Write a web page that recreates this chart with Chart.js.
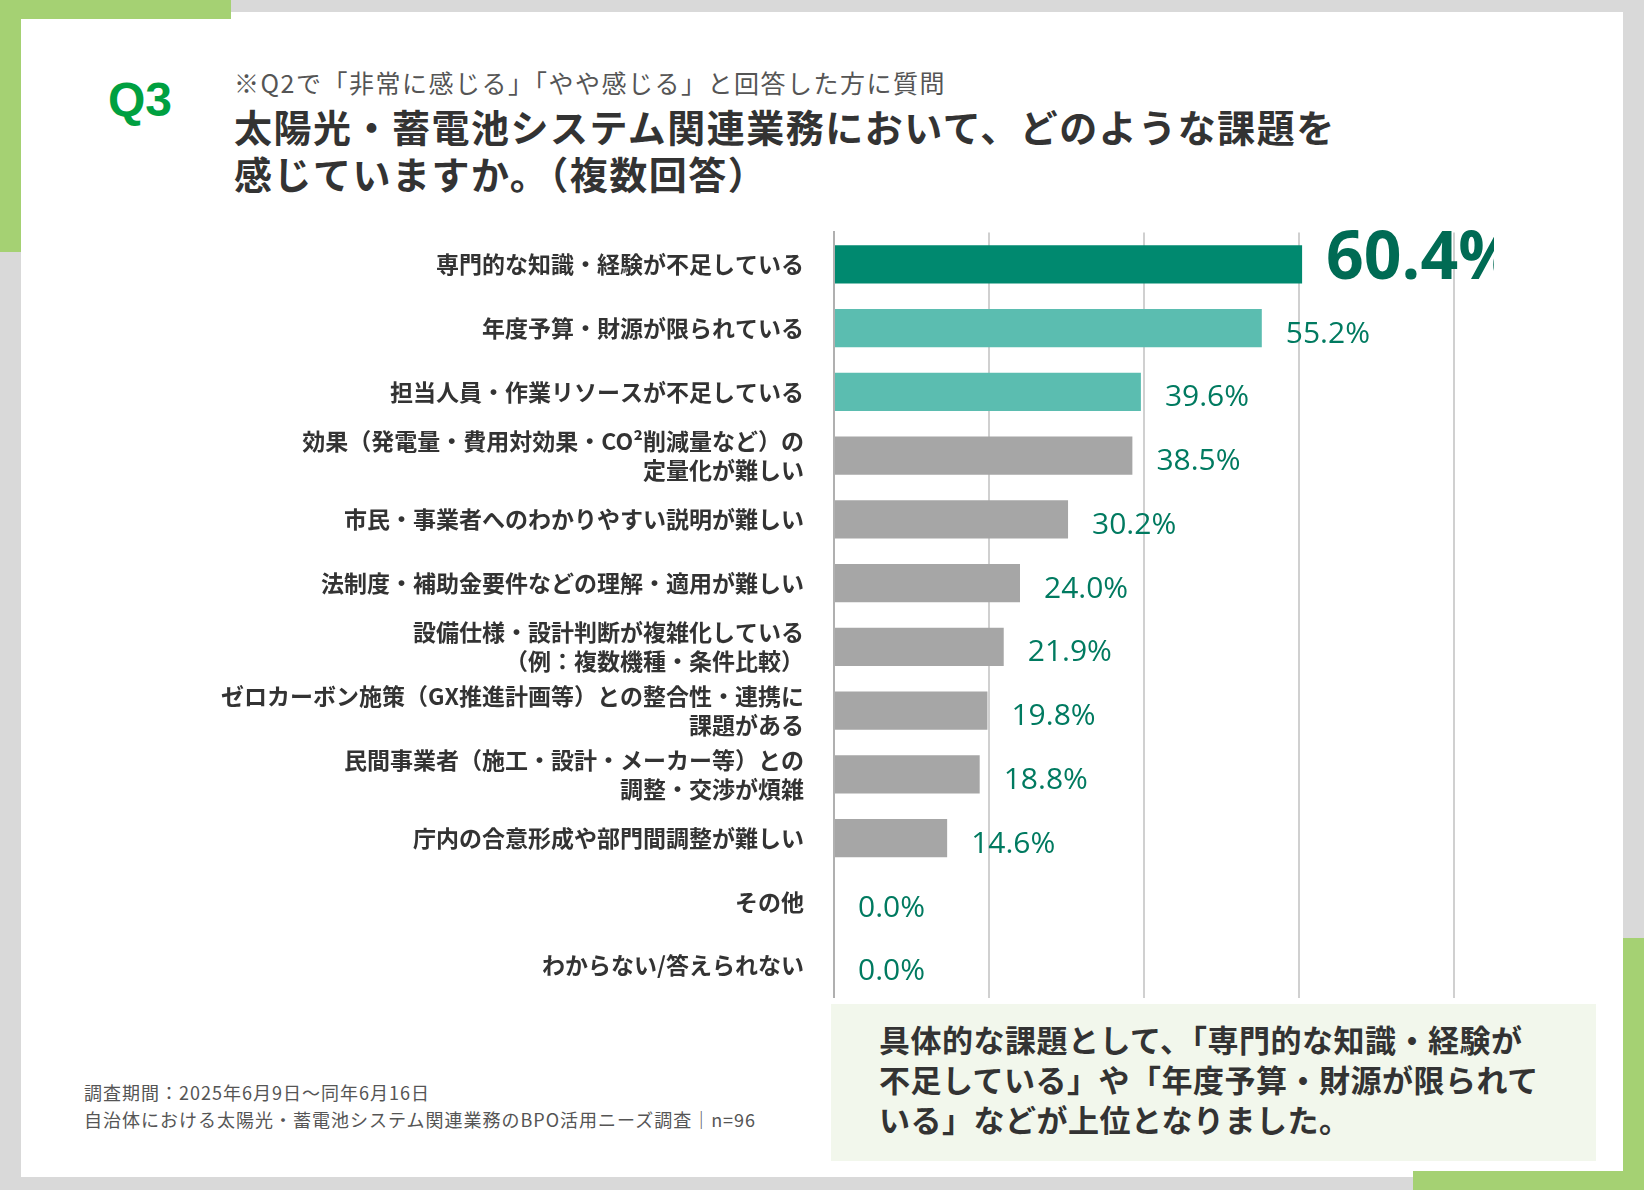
<!DOCTYPE html>
<html><head><meta charset="utf-8">
<script src="https://cdn.jsdelivr.net/npm/chart.js@4"></script>
<style>
body{margin:0;width:1644px;height:1190px;background:#d9d9d9;position:relative;overflow:hidden;font-family:"Noto Sans CJK JP","Noto Sans",sans-serif;}
.abs{position:absolute}
#panel{left:21px;top:12px;width:1602px;height:1165px;background:#fff}
.g{background:#a5d173}
#q{left:108px;top:72px;font:bold 48px "Liberation Sans",Arial,sans-serif;color:#00a040}
#sub{left:234px;top:64px;font-size:25px;letter-spacing:1.5px;color:#555;white-space:nowrap}
#title{left:234px;top:102px;font-weight:bold;font-size:38px;letter-spacing:1.5px;line-height:47px;color:#333;white-space:nowrap}
#foot{left:84px;top:1079px;font-size:18px;letter-spacing:1px;line-height:27px;color:#555;white-space:nowrap}
#box{left:831px;top:1004px;width:765px;height:157px;background:#f2f7ec}
#boxt{left:879px;top:1019px;font-weight:bold;font-size:31px;letter-spacing:0.5px;line-height:40px;color:#333;white-space:nowrap}
#wrap{left:150px;top:196px;width:1344px;height:838px}
</style></head><body>
<div class="abs" id="panel"></div>
<div class="abs g" style="left:0;top:0;width:231px;height:19px"></div>
<div class="abs g" style="left:0;top:0;width:21px;height:252px"></div>
<div class="abs g" style="left:1623px;top:938px;width:21px;height:252px"></div>
<div class="abs g" style="left:1413px;top:1171px;width:231px;height:19px"></div>
<div class="abs" id="q">Q3</div>
<div class="abs" id="sub">※Q2で「非常に感じる」「やや感じる」と回答した方に質問</div>
<div class="abs" id="title">太陽光・蓄電池システム関連業務において、どのような課題を<br>感じていますか。（複数回答）</div>
<div class="abs" id="foot">調査期間：2025年6月9日～同年6月16日<br>自治体における太陽光・蓄電池システム関連業務のBPO活用ニーズ調査｜n=96</div>
<div class="abs" id="box"></div>
<div class="abs" id="boxt">具体的な課題として、「専門的な知識・経験が<br>不足している」や「年度予算・財源が限られて<br>いる」などが上位となりました。</div>
<div class="abs" id="wrap"><canvas id="c"></canvas></div>
<script>
const categories = [
  ['専門的な知識・経験が不足している'],
  ['年度予算・財源が限られている'],
  ['担当人員・作業リソースが不足している'],
  ['効果（発電量・費用対効果・CO²削減量など）の', '定量化が難しい'],
  ['市民・事業者へのわかりやすい説明が難しい'],
  ['法制度・補助金要件などの理解・適用が難しい'],
  ['設備仕様・設計判断が複雑化している', '（例：複数機種・条件比較）'],
  ['ゼロカーボン施策（GX推進計画等）との整合性・連携に', '課題がある'],
  ['民間事業者（施工・設計・メーカー等）との', '調整・交渉が煩雑'],
  ['庁内の合意形成や部門間調整が難しい'],
  ['その他'],
  ['わからない/答えられない']
];
const values = [60.4, 55.2, 39.6, 38.5, 30.2, 24.0, 21.9, 19.8, 18.8, 14.6, 0.0, 0.0];
const barColors = ['#00896f', '#5bbdb0', '#5bbdb0', '#a6a6a6', '#a6a6a6', '#a6a6a6', '#a6a6a6', '#a6a6a6', '#a6a6a6', '#a6a6a6', '#a6a6a6', '#a6a6a6'];
const xTicks = [0, 20, 40, 60, 80];

const valueLabels = {
  id: 'valueLabels',
  afterDatasetsDraw(chart) {
    const ctx = chart.ctx;
    const meta = chart.getDatasetMeta(0);
    ctx.save();
    ctx.textBaseline = 'middle';
    ctx.textAlign = 'left';
    meta.data.forEach((bar, i) => {
      if (i === 0) {
        ctx.font = 'bold 66px "Open Sans", sans-serif';
        ctx.fillStyle = '#006b54';
        ctx.fillText(values[i].toFixed(1) + '%', bar.x + 24, bar.y - 4);
      } else {
        ctx.font = '30px "Open Sans", sans-serif';
        ctx.fillStyle = '#007a60';
        ctx.fillText(values[i].toFixed(1) + '%', bar.x + 24, bar.y + 6);
      }
    });
    ctx.restore();
  }
};

new Chart(document.getElementById('c'), {
  type: 'bar',
  data: { labels: categories, datasets: [{ data: values, backgroundColor: barColors, barPercentage: 0.6, categoryPercentage: 1 }] },
  options: {
    indexAxis: 'y', responsive: true, maintainAspectRatio: false, animation: false,
    layout: { padding: { top: 0, right: 40, bottom: 0, left: 0 } },
    plugins: { legend: { display: false }, tooltip: { enabled: false } },
    scales: {
      x: {
        min: xTicks[0], max: xTicks[xTicks.length - 1],
        afterBuildTicks(s) { s.ticks = xTicks.map(v => ({ value: v })); },
        ticks: { display: false },
        grid: { color: '#d0d0d0', lineWidth: 2, drawTicks: false },
        border: { display: false }
      },
      y: {
        afterFit(s) { s.width = 684; },
        ticks: { color: '#333', font: { family: '"Noto Sans CJK JP"', size: 23, weight: 'bold', lineHeight: 1.25 }, padding: 22, crossAlign: 'near' },
        grid: { display: false },
        border: { color: '#b0b0b0', width: 2 }
      }
    }
  },
  plugins: [valueLabels]
});
</script>
</body></html>
